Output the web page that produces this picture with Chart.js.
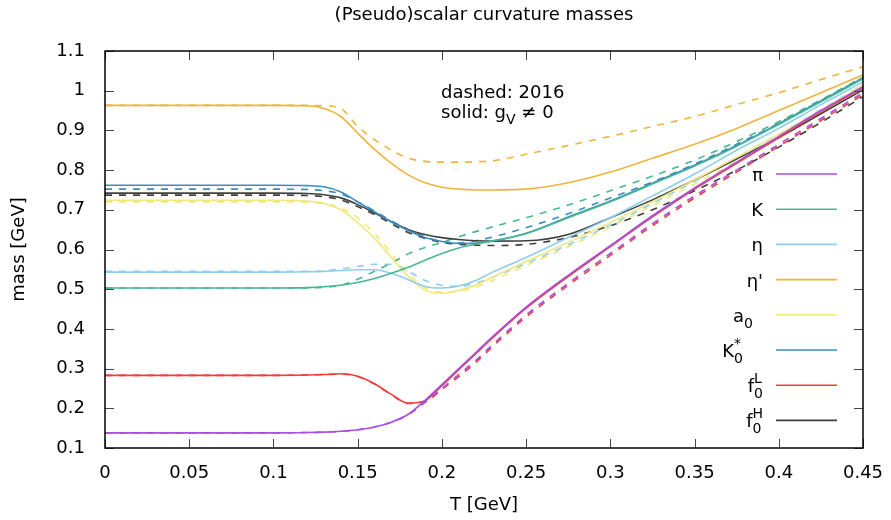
<!DOCTYPE html>
<html>
<head>
<meta charset="utf-8">
<script src="https://cdn.jsdelivr.net/npm/chart.js@4"></script>
<style>
  html, body { margin: 0; padding: 0; background: #fff; }
</style>
</head>
<body>
<canvas id="masses" width="891" height="520"></canvas>
<script>
// temperature grid (GeV) shared by all curves
const T = [0, 0.05, 0.1, 0.12, 0.13, 0.14, 0.15, 0.16, 0.17, 0.18, 0.19, 0.2, 0.21, 0.22, 0.23, 0.25, 0.275, 0.3, 0.325, 0.35, 0.375, 0.4, 0.425, 0.45];

// solid: gV != 0
const piSolid   = [.138,.138,.138,.139,.140,.142,.146,.153,.165,.185,.220,.260,.300,.340,.380,.455,.535,.610,.685,.755,.820,.885,.950,1.010];
const kSolid    = [.503,.503,.503,.504,.506,.510,.517,.527,.540,.555,.573,.590,.604,.614,.622,.640,.680,.720,.765,.810,.860,.915,.972,1.030];
const etaSolid  = [.543,.543,.543,.544,.545,.547,.549,.549,.540,.524,.507,.503,.508,.522,.543,.580,.630,.680,.735,.790,.850,.905,.965,1.022];
const etapSolid = [.963,.963,.963,.962,.955,.935,.893,.852,.817,.788,.768,.757,.752,.750,.750,.752,.768,.795,.830,.865,.905,.950,.995,1.040];
const a0Solid   = [.724,.724,.724,.722,.716,.700,.668,.628,.580,.532,.497,.490,.497,.510,.530,.570,.618,.668,.720,.775,.832,.890,.950,1.015];
const k0Solid   = [.762,.762,.762,.761,.758,.745,.720,.695,.670,.648,.630,.620,.615,.616,.621,.641,.682,.722,.767,.812,.862,.917,.974,1.032];
const f0lSolid  = [.283,.283,.283,.284,.285,.287,.281,.262,.235,.213,.219,.257,.297,.337,.377,.452,.532,.607,.682,.752,.817,.882,.947,1.007];
const f0hSolid  = [.742,.742,.742,.741,.738,.730,.713,.692,.670,.650,.638,.630,.625,.622,.621,.622,.638,.680,.725,.775,.828,.882,.942,1.002];

// dashed: 2016
const piDashed   = [.138,.138,.138,.139,.140,.142,.146,.153,.165,.184,.215,.250,.285,.320,.360,.435,.515,.590,.665,.735,.800,.865,.930,.995];
const kDashed    = [.503,.503,.503,.503,.505,.510,.525,.545,.566,.589,.605,.618,.632,.645,.657,.680,.712,.748,.785,.825,.872,.922,.977,1.035];
const etaDashed  = [.545,.545,.545,.545,.546,.551,.557,.563,.563,.545,.522,.510,.507,.515,.530,.565,.612,.662,.716,.772,.832,.890,.952,1.015];
const etapDashed = [.963,.963,.963,.963,.962,.955,.910,.877,.850,.830,.822,.820,.820,.821,.823,.840,.862,.885,.910,.935,.965,.995,1.028,1.060];
const a0Dashed   = [.720,.720,.720,.719,.715,.705,.680,.640,.590,.540,.503,.493,.495,.505,.522,.560,.607,.657,.710,.765,.822,.880,.942,1.008];
const k0Dashed   = [.752,.752,.752,.751,.748,.740,.720,.697,.672,.650,.632,.620,.617,.622,.631,.655,.690,.730,.770,.815,.865,.918,.975,1.033];
const f0lDashed  = [.283,.283,.283,.284,.285,.286,.280,.261,.234,.212,.216,.248,.280,.315,.355,.430,.510,.585,.660,.730,.795,.860,.925,.990];
const f0hDashed  = [.737,.737,.737,.736,.733,.725,.708,.688,.665,.643,.628,.618,.613,.611,.610,.613,.630,.660,.700,.748,.800,.858,.920,.985];

const xTicks = [0, 0.05, 0.1, 0.15, 0.2, 0.25, 0.3, 0.35, 0.4, 0.45];
const xTickLabels = ['0', '0.05', '0.1', '0.15', '0.2', '0.25', '0.3', '0.35', '0.4', '0.45'];
const yTicks = [0.1, 0.2, 0.3, 0.4, 0.5, 0.6, 0.7, 0.8, 0.9, 1, 1.1];
const yTickLabels = ['0.1', '0.2', '0.3', '0.4', '0.5', '0.6', '0.7', '0.8', '0.9', '1', '1.1'];

const FONT = "'DejaVu Sans', sans-serif";

// legend entries: main text plus optional sub/superscript
const series = [
  { key: 'pi',   label: [{ t: 'π' }],                       color: '#a94ee2', solid: piSolid,   dashed: piDashed },
  { key: 'K',    label: [{ t: 'K' }],                       color: '#48b88f', solid: kSolid,    dashed: kDashed },
  { key: 'eta',  label: [{ t: 'η' }],                       color: '#8fcdef', solid: etaSolid,  dashed: etaDashed },
  { key: 'etap', label: [{ t: "η'" }],                      color: '#efb43e', solid: etapSolid, dashed: etapDashed },
  { key: 'a0',   label: [{ t: 'a' }, { sub: '0' }],         color: '#f1e77a', solid: a0Solid,   dashed: a0Dashed, shift: -10 },
  { key: 'K0',   label: [{ t: 'K' }, { sub: '0', sup: '*' }], color: '#3a8dc1', solid: k0Solid, dashed: k0Dashed, shift: -20 },
  { key: 'f0L',  label: [{ t: 'f' }, { sub: '0', sup: 'L' }], color: '#ee3e3a', solid: f0lSolid, dashed: f0lDashed },
  { key: 'f0H',  label: [{ t: 'f' }, { sub: '0', sup: 'H' }], color: '#404040', solid: f0hSolid, dashed: f0hDashed }
];

function points(values) {
  return values.map((v, i) => ({ x: T[i], y: v }));
}

const datasets = [];
series.forEach(s => {
  datasets.push({
    label: s.key,
    data: points(s.solid),
    borderColor: s.color,
    borderWidth: 1.6,
    pointRadius: 0,
    cubicInterpolationMode: 'monotone'
  });
});
series.forEach(s => {
  datasets.push({
    label: s.key + ' 2016',
    data: points(s.dashed),
    borderColor: s.color,
    borderWidth: 1.6,
    borderDash: [7, 7],
    pointRadius: 0,
    cubicInterpolationMode: 'monotone'
  });
});

// draw text made of pieces with sub/superscripts, right aligned at xr
function richWidth(ctx, parts) {
  let w = 0;
  parts.forEach(p => {
    if (p.t) {
      ctx.font = '18px ' + FONT;
      w += ctx.measureText(p.t).width;
    } else {
      ctx.font = '14px ' + FONT;
      w += Math.max(p.sub ? ctx.measureText(p.sub).width : 0, p.sup ? ctx.measureText(p.sup).width : 0);
    }
  });
  return w;
}

function drawRich(ctx, parts, x, base) {
  ctx.textAlign = 'left';
  ctx.textBaseline = 'alphabetic';
  parts.forEach(p => {
    if (p.t) {
      ctx.font = '18px ' + FONT;
      ctx.fillText(p.t, x, base);
      x += ctx.measureText(p.t).width;
    } else {
      ctx.font = '14px ' + FONT;
      let w = 0;
      if (p.sub) {
        ctx.fillText(p.sub, x, base + 6);
        w = ctx.measureText(p.sub).width;
      }
      if (p.sup) {
        ctx.fillText(p.sup, x, base - 9);
        w = Math.max(w, ctx.measureText(p.sup).width);
      }
      x += w;
    }
  });
}

const gnuplotLook = {
  id: 'gnuplotLook',
  afterDraw(chart) {
    const ctx = chart.ctx;
    const a = chart.chartArea;
    const xs = chart.scales.x;
    const ys = chart.scales.y;
    ctx.save();

    // inward ticks on all four sides
    ctx.strokeStyle = '#444';
    ctx.lineWidth = 1;
    ctx.beginPath();
    xTicks.forEach(v => {
      const px = Math.round(xs.getPixelForValue(v)) + 0.5;
      ctx.moveTo(px, a.bottom); ctx.lineTo(px, a.bottom - 9);
      ctx.moveTo(px, a.top); ctx.lineTo(px, a.top + 9);
    });
    yTicks.forEach(v => {
      const py = Math.round(ys.getPixelForValue(v)) + 0.5;
      ctx.moveTo(a.left, py); ctx.lineTo(a.left + 9, py);
      ctx.moveTo(a.right, py); ctx.lineTo(a.right - 9, py);
    });
    ctx.stroke();

    // frame
    ctx.strokeStyle = '#000';
    ctx.lineWidth = 1.5;
    ctx.strokeRect(a.left, a.top, a.right - a.left, a.bottom - a.top);

    ctx.fillStyle = '#000';

    // title and axis titles
    ctx.font = '18px ' + FONT;
    ctx.textAlign = 'center';
    ctx.textBaseline = 'middle';
    const cx = (a.left + a.right) / 2;
    ctx.fillText('(Pseudo)scalar curvature masses', cx, 15);
    ctx.fillText('T [GeV]', cx, 505);
    ctx.save();
    ctx.translate(19, (a.top + a.bottom) / 2);
    ctx.rotate(-Math.PI / 2);
    ctx.fillText('mass [GeV]', 0, 0);
    ctx.restore();

    // note
    drawRich(ctx, [{ t: 'dashed: 2016' }], 441, 98);
    drawRich(ctx, [{ t: 'solid: g' }, { sub: 'V' }, { t: ' ≠ 0' }], 441, 118);

    // legend
    series.forEach((s, i) => {
      const y = 174 + i * 35.2;
      const w = richWidth(ctx, s.label);
      ctx.fillStyle = '#000';
      drawRich(ctx, s.label, 763 - w + (s.shift || 0), y + 7);
      ctx.strokeStyle = s.color;
      ctx.lineWidth = 1.6;
      ctx.beginPath();
      ctx.moveTo(776, y);
      ctx.lineTo(837, y);
      ctx.stroke();
    });

    ctx.restore();
  }
};

Chart.defaults.font.family = FONT;
Chart.defaults.font.size = 18;
Chart.defaults.color = '#000';

new Chart(document.getElementById('masses'), {
  type: 'line',
  data: { datasets },
  options: {
    responsive: false,
    animation: false,
    layout: { padding: { left: 0, right: 28, top: 51, bottom: 0 } },
    plugins: {
      legend: { display: false },
      title: { display: false },
      tooltip: { enabled: false }
    },
    scales: {
      x: {
        type: 'linear',
        min: 0,
        max: 0.45,
        grid: { display: false },
        border: { display: false },
        ticks: {
          padding: 7,
          maxRotation: 0,
          autoSkip: false,
          callback: (v, i) => xTickLabels[i]
        },
        afterBuildTicks: s => { s.ticks = xTicks.map(v => ({ value: v })); },
        afterFit: s => { s.height = 72; }
      },
      y: {
        type: 'linear',
        min: 0.1,
        max: 1.1,
        grid: { display: false },
        border: { display: false },
        ticks: {
          padding: 12,
          autoSkip: false,
          callback: (v, i) => yTickLabels[i]
        },
        afterBuildTicks: s => { s.ticks = yTicks.map(v => ({ value: v })); },
        afterFit: s => { s.width = 105; }
      }
    }
  },
  plugins: [gnuplotLook]
});
</script>
</body>
</html>
